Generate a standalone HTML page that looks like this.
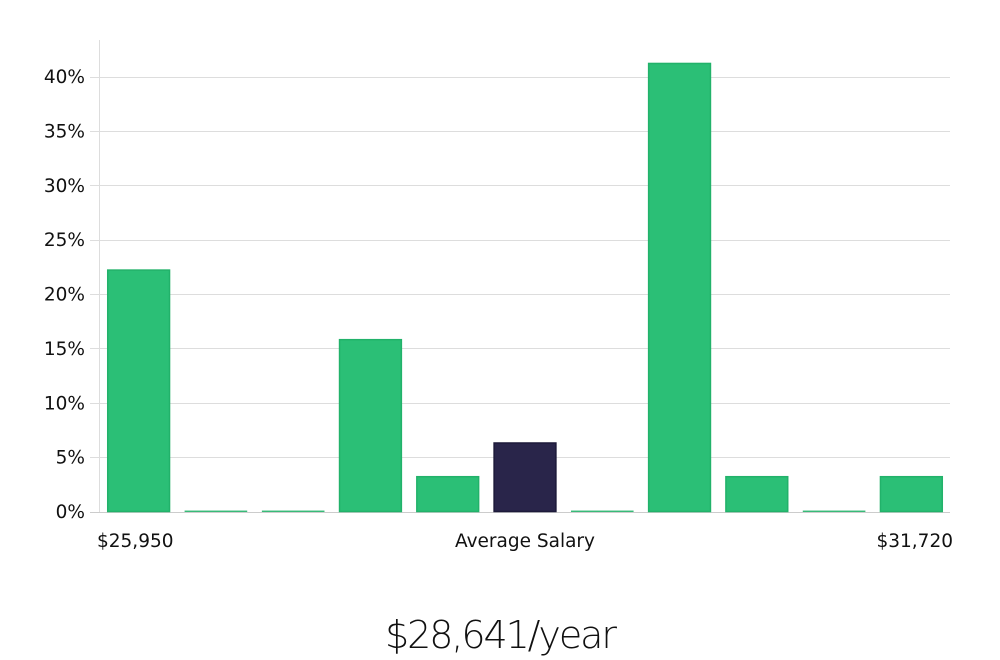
<!DOCTYPE html>
<html><head><meta charset="utf-8">
<style>
html,body{margin:0;padding:0;background:#fff;width:1000px;height:660px;overflow:hidden}
svg{display:block}
text{font-family:"DejaVu Sans","Liberation Sans",sans-serif;fill:#111}
</style></head>
<body>
<svg id="chart" width="1000" height="660">
<g id="grid"></g><g id="bars"></g><g id="ylabels"></g>
<line x1="99.5" y1="40" x2="99.5" y2="512" stroke="#ddd"/>
<text x="97" y="547" font-size="18.5">$25,950</text>
<text x="525" y="547" font-size="18.5" text-anchor="middle">Average Salary</text>
<text x="953" y="547" font-size="18.5" text-anchor="end">$31,720</text>
<text x="501" y="648" font-size="38" text-anchor="middle" textLength="232" style="font-family:'DejaVu Sans',sans-serif;font-weight:200;fill:#111">$28,641/year</text>
</svg>
<script>
const values = [22.2, 0, 0, 15.8, 3.2, 6.3, 0, 41.2, 3.2, 0, 3.2];
const highlight = [false, false, false, false, false, true, false, false, false, false, false];
const yTicks = [0, 5, 10, 15, 20, 25, 30, 35, 40];
const NS = "http://www.w3.org/2000/svg";
const x0 = 100, x1 = 950, yBase = 511.5, pxPerPct = 10.875;
const y = v => yBase - v * pxPerPct;
const step = (x1 - x0) / values.length;
const bw = step * 0.8;
const grid = document.getElementById('grid'), yl = document.getElementById('ylabels'), bars = document.getElementById('bars');
yTicks.forEach(t => {
  const l = document.createElementNS(NS, 'line');
  l.setAttribute('x1', 90); l.setAttribute('x2', x1);
  l.setAttribute('y1', Math.round(y(t)) + 0.5); l.setAttribute('y2', Math.round(y(t)) + 0.5);
  l.setAttribute('stroke', t === 0 ? '#ccc' : '#ddd');
  
  
  grid.appendChild(l);
  const tx = document.createElementNS(NS, 'text');
  tx.setAttribute('x', 85); tx.setAttribute('y', y(t) + 6.5);
  tx.setAttribute('text-anchor', 'end'); tx.setAttribute('font-size', '18.5');
  tx.textContent = t + '%';
  
  
  yl.appendChild(tx);
});
values.forEach((v, i) => {
  const r = document.createElementNS(NS, 'rect');
  const zero = v === 0;
  const h = zero ? 0.5 : v * pxPerPct;
  r.setAttribute('x', x0 + i * step + (step - bw) / 2);
  r.setAttribute('y', yBase - h);
  r.setAttribute('width', bw); r.setAttribute('height', h);
  r.setAttribute('fill', highlight[i] ? '#29254a' : '#2bbf76');
  r.setAttribute('stroke', highlight[i] ? '#1d1a3a' : '#22b26a');
  r.setAttribute('stroke-width', zero ? '0.8' : '1.5');
  
  
  bars.appendChild(r);
});
</script>
</body></html>
